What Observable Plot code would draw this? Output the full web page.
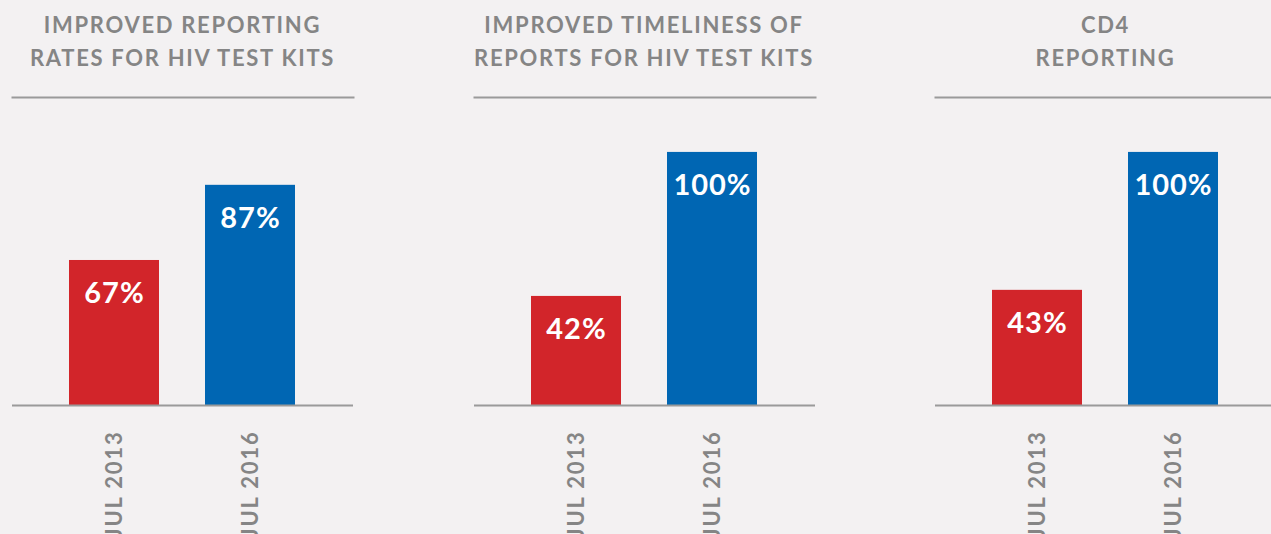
<!DOCTYPE html>
<html>
<head>
<meta charset="utf-8">
<script src="https://cdn.jsdelivr.net/npm/d3@7"></script>
<script src="https://cdn.jsdelivr.net/npm/@observablehq/plot@0.6"></script>
<style>
  html, body { margin: 0; padding: 0; background: #f3f1f2; width: 1271px; height: 534px; overflow: hidden; }
  .panel { position: absolute; top: 0; width: 341px; height: 534px; }
  .title { position: absolute; top: 8px; left: 0; width: 341px; text-align: center;
           font-family: Lato, sans-serif; font-weight: 700; font-size: 22px; line-height: 33px;
           letter-spacing: 1.7px; color: #858585; }
  .chart { position: absolute; top: 80px; left: 0; }
  .chart svg { background: transparent; overflow: visible; }
  .chart svg g[aria-label="x-axis tick label"] text { letter-spacing: 1.8px; }
  .chart svg g[aria-label="text"] text { letter-spacing: 1px; }
</style>
</head>
<body>
<script>
// Data
const panelTitles = [
  ["IMPROVED REPORTING", "RATES FOR HIV TEST KITS"],
  ["IMPROVED TIMELINESS OF", "REPORTS FOR HIV TEST KITS"],
  ["CD4", "REPORTING"]
];
const periods = ["JUL 2013", "JUL 2016"];
// bar heights as drawn in the picture (%)
const barHeights2013 = [57.3, 43.1, 45.5];
const barHeights2016 = [87, 100, 100];
// printed labels
const labels2013 = ["67%", "42%", "43%"];
const labels2016 = ["87%", "100%", "100%"];
const periodColors = ["#d2252a", "#0066b3"];
const panelLefts = [12, 473.5, 935];

panelTitles.forEach((title, i) => {
  const data = [
    {period: periods[0], value: barHeights2013[i], label: labels2013[i]},
    {period: periods[1], value: barHeights2016[i], label: labels2016[i]}
  ];
  const panel = document.createElement("div");
  panel.className = "panel";
  panel.style.left = panelLefts[i] + "px";
  const t = document.createElement("div");
  t.className = "title";
  t.innerHTML = title.join("<br>");
  panel.appendChild(t);
  const chartDiv = document.createElement("div");
  chartDiv.className = "chart";
  const chart = Plot.plot({
    width: 341,
    height: 454,
    marginLeft: 0,
    marginRight: 0,
    marginTop: 17,
    marginBottom: 129,
    style: {background: "transparent", fontFamily: "Lato, sans-serif"},
    x: {domain: periods, paddingInner: 0.336, paddingOuter: 0.4126, axis: null},
    y: {domain: [0, 121.7], axis: null},
    color: {domain: periods, range: periodColors},
    marks: [
      Plot.frame({anchor: "top", stroke: "#9a9a9a", strokeWidth: 2}),
      Plot.barY(data, {x: "period", y: "value", fill: "period"}),
      Plot.ruleY([0], {stroke: "#9a9a9a", strokeWidth: 2}),
      Plot.text(data, {x: "period", y: "value", text: "label", dy: 33, fill: "white",
                       fontSize: 29, fontWeight: 700}),
      Plot.axisX({tickRotate: -90, tickSize: 0, tickPadding: 25, fontSize: 22,
                  fontWeight: 700, fill: "#858585", label: null})
    ]
  });
  chartDiv.appendChild(chart);
  panel.appendChild(chartDiv);
  document.body.appendChild(panel);
});
</script>
</body>
</html>
